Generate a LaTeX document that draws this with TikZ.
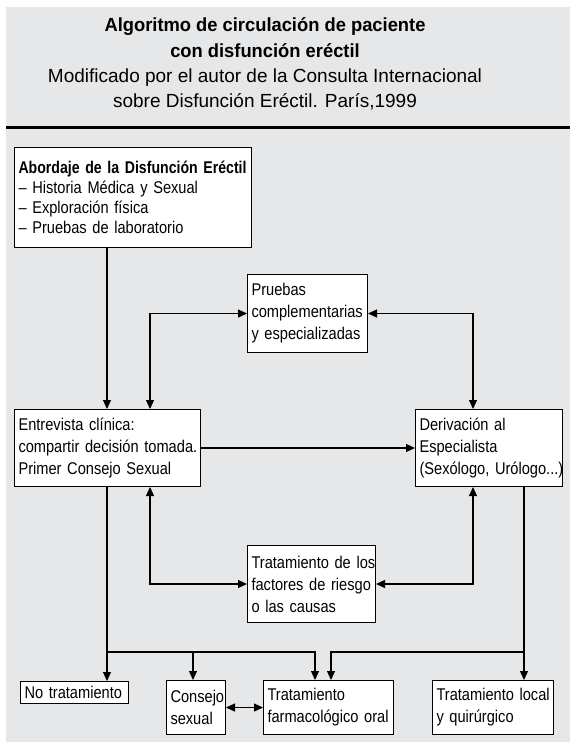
\documentclass[tikz,border=0pt]{standalone}
\usepackage{fontspec}
\setmainfont{Liberation Sans}
\newfontfamily\boxfont[FakeStretch=0.86]{Liberation Sans}
\newfontfamily\hdfont[FakeStretch=0.83]{Liberation Sans}
\newfontfamily\ttlbold[FakeStretch=0.965]{Liberation Sans}
\usetikzlibrary{arrows.meta}
\definecolor{bg}{RGB}{230,231,232}
\begin{document}
\begin{tikzpicture}[x=1pt,y=-1pt,
  box/.style n args={3}{draw, line width=1pt, fill=white, anchor=north west, align=left,
    inner xsep=4pt, inner ysep=0pt, minimum width=#1, text width=#2, minimum height=#3,
    font=\boxfont\fontsize{17}{22}\selectfont},
  ttl/.style={anchor=base, font=\fontsize{19}{25}\selectfont},
  tip/.tip={Triangle[length=9pt,width=8pt]},
  arr/.style={line width=1.1pt, -tip},
  dbl/.style={line width=1.1pt, tip-tip}]
\useasboundingbox (0,0) rectangle (570,748);
\fill[bg] (6,7) rectangle (570,742);
\draw[line width=3pt] (6,127) -- (570,127);

% title
\node[ttl, font=\ttlbold\bfseries\fontsize{19}{25}\selectfont] (t1) at (265,31) {Algoritmo de circulación de paciente};
\node[ttl, font=\ttlbold\bfseries\fontsize{19}{25}\selectfont] (t2) at (265,57) {con disfunción eréctil};
\node[ttl] (t3) at (265,82) {Modificado por el autor de la Consulta Internacional};
\node[ttl] (t4) at (265,107) {sobre Disfunción Eréctil. París,1999};

% boxes
\node[box={237pt}{229pt}{100pt}, font=\boxfont\fontsize{17}{20}\selectfont] (abordaje) at (14,147)
  {\mbox{\hdfont\bfseries Abordaje de la Disfunción Eréctil}\\– Historia Médica y Sexual\\– Exploración física\\– Pruebas de laboratorio};
\node[box={120pt}{112pt}{78pt}] (pruebas) at (247,274) {Pruebas\\\mbox{complementarias}\\\mbox{y especializadas}};
\node[box={186pt}{178pt}{77pt}] (entrevista) at (14,409) {Entrevista clínica:\\\mbox{compartir decisión tomada.}\\Primer Consejo Sexual};
\node[box={147pt}{139pt}{77pt}] (deriv) at (415,409) {Derivación al\\Especialista\\\mbox{(Sexólogo, Urólogo...)}};
\node[box={128pt}{120pt}{77pt}] (factores) at (247,545) {\mbox{Tratamiento de los}\\\mbox{factores de riesgo}\\o las causas};
\node[box={108pt}{100pt}{22pt}] (notrat) at (20,681) {\mbox{No tratamiento}};
\node[box={59pt}{51pt}{54pt}] (consejo) at (166,680) {Consejo\\sexual};
\node[box={130pt}{122pt}{54pt}] (farmaco) at (263,680) {Tratamiento\\\mbox{farmacológico oral}};
\node[box={121pt}{113pt}{54pt}] (local) at (432,680) {\mbox{Tratamiento local}\\y quirúrgico};

% helper coordinates
\coordinate (xa) at (107,0);
\coordinate (xb) at (150,0);
\coordinate (xc) at (473,0);
\coordinate (xd) at (524,0);
\coordinate (xe) at (193,0);
\coordinate (xf) at (315,0);
\coordinate (xg) at (331,0);
\coordinate (ya) at (0,652);

% connectors
\draw[arr] (abordaje.south -| xa) -- (entrevista.north -| xa);
\draw[dbl] (entrevista.north -| xb) |- (pruebas.west);
\draw[dbl] (pruebas.east) -| (deriv.north -| xc);
\draw[arr] (entrevista.east) -- (deriv.west);
\draw[dbl] (entrevista.south -| xb) |- (factores.west);
\draw[dbl] (factores.east) -| (deriv.south -| xc);
\draw[arr] (entrevista.south -| xa) -- (notrat.north -| xa);
\draw[arr] (xa |- ya) -| (farmaco.north -| xf);
\draw[arr] (xe |- ya) -- (consejo.north -| xe);
\draw[arr] (deriv.south -| xd) -- (local.north -| xd);
\draw[arr] (xd |- ya) -| (farmaco.north -| xg);
\draw[dbl] (consejo.east) -- (farmaco.west);
\end{tikzpicture}
\end{document}
